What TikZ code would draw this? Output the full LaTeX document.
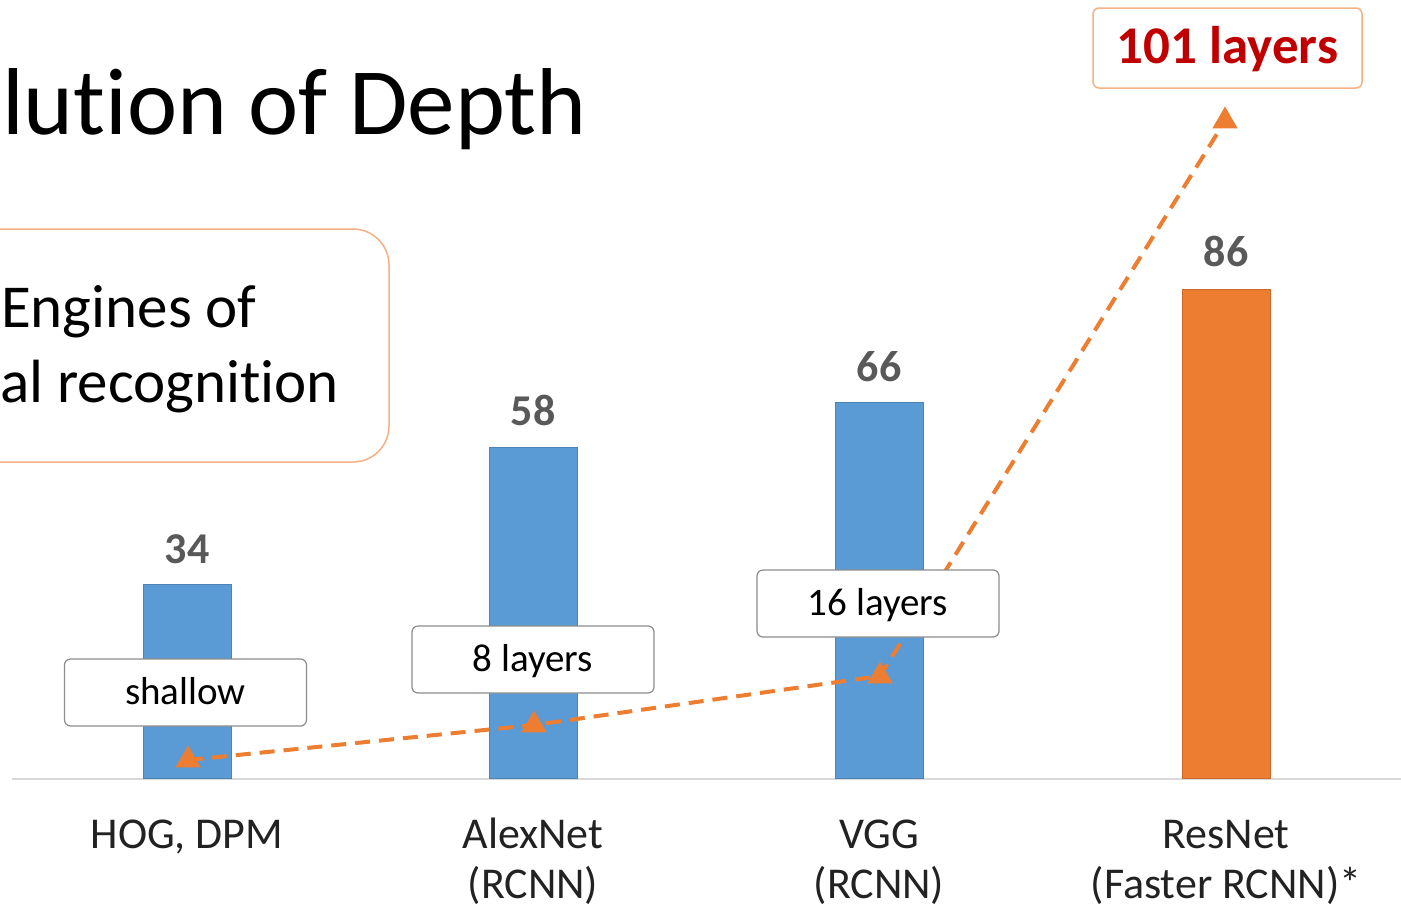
\documentclass[tikz,border=0pt]{standalone}
\usepackage{fontspec}
\setmainfont{Carlito}[Ligatures={NoCommon,NoRare,NoContextual}]
\usetikzlibrary{shapes.geometric}
\definecolor{barblue}{HTML}{5B9BD5}
\definecolor{barorange}{HTML}{ED7D31}
\definecolor{lightorange}{HTML}{F4B183}
\definecolor{valgray}{HTML}{595959}
\definecolor{tagred}{HTML}{C00000}
\definecolor{axisgray}{HTML}{D9D9D9}
\definecolor{tagborder}{HTML}{8C8C8C}
\definecolor{labelink}{HTML}{222222}
% keep "t" and "i" as separate glyphs
\newcommand{\tiSep}{t\kern0pt i}
\begin{document}
\begin{tikzpicture}[x=1pt,y=-1pt,
  bar/.style={draw=#1!85!black, line width=0.8pt, fill=#1, inner sep=0pt,
    minimum width=88pt, anchor=south},
  value/.style={font=\fontsize{44}{50}\selectfont\bfseries, text=valgray, anchor=base},
  catlabel/.style={font=\fontsize{44}{50}\selectfont, text=labelink, anchor=base},
  tag/.style={draw=tagborder, fill=white, rounded corners=6pt, line width=1.2pt,
    minimum width=242pt, minimum height=67pt, inner sep=0pt,
    text height=28pt, text depth=4pt, font=\fontsize{39}{45}\selectfont},
  redtag/.style={draw=lightorange, fill=white, rounded corners=6pt, line width=1.5pt,
    minimum width=269pt, minimum height=80pt, inner sep=0pt,
    text height=36pt, text depth=6pt, text=tagred,
    font=\fontsize{53}{60}\selectfont\bfseries},
  trend/.style={draw=barorange, line width=4pt, dash pattern=on 15pt off 9pt},
  marker/.style={regular polygon, regular polygon sides=3, fill=barorange,
    inner sep=0pt, minimum size=29pt}
]
\useasboundingbox (0,0) rectangle (1401,914);
\clip (0,0) rectangle (1401,914);

% title and caption box
\node[anchor=base west, font=\fontsize{95}{110}\selectfont, inner sep=0pt] (title) at (2,134) {lu\tiSep on of Depth};
\draw[lightorange, line width=1.5pt, rounded corners=36pt] (-60,229) rectangle (389,462);
\node[anchor=base west, font=\fontsize{61}{70}\selectfont, inner sep=0pt] (cap1) at (1,327) {Engines of};
\node[anchor=base west, font=\fontsize{61}{70}\selectfont, inner sep=0pt] (cap2) at (0,402) {al recogni\tiSep on};

% axis
\draw[axisgray, line width=1.5pt] (12,779) -- (1401,779);

% bars
\node[bar=barblue, minimum height=194pt] (b1) at (187,779) {};
\node[bar=barblue, minimum height=331pt] (b2) at (533,779) {};
\node[bar=barblue, minimum height=376pt] (b3) at (879,779) {};
\node[bar=barorange, minimum height=489pt] (b4) at (1226,779) {};

% bar values
\node[value] (v1) at (187,563) {34};
\node[value] (v2) at (533,425) {58};
\node[value] (v3) at (879,381) {66};
\node[value] (v4) at (1226,266) {86};

% depth trend
\coordinate (p1) at (188,760);
\coordinate (p2) at (534,725);
\coordinate (p3) at (880,676);
\coordinate (p4) at (1225,121);
\draw[trend] (p1) -- (p2) -- (p3) -- (p4);
\node[marker] (m1) at (p1) {};
\node[marker] (m2) at (p2) {};
\node[marker] (m3) at (p3) {};
\node[marker] (m4) at (p4) {};

% depth tags
\node[tag] (t1) at (185.5,692.5) {shallow};
\node[tag] (t2) at (533,659.5) {8 layers};
\node[tag] (t3) at (878,603.5) {16 layers};
\node[redtag] (t4) at (1227.5,48) {101 layers};

% categories
\node[catlabel] (c1) at (187,848) {HOG, DPM};
\node[catlabel] (c2) at (533,848) {AlexNet};
\node[catlabel] (c2b) at (533,898) {(RCNN)};
\node[catlabel] (c3) at (879,848) {VGG};
\node[catlabel] (c3b) at (879,898) {(RCNN)};
\node[catlabel] (c4) at (1226,848) {ResNet};
\node[catlabel] (c4b) at (1226,898) {(Faster RCNN)*};
\end{tikzpicture}
\end{document}
